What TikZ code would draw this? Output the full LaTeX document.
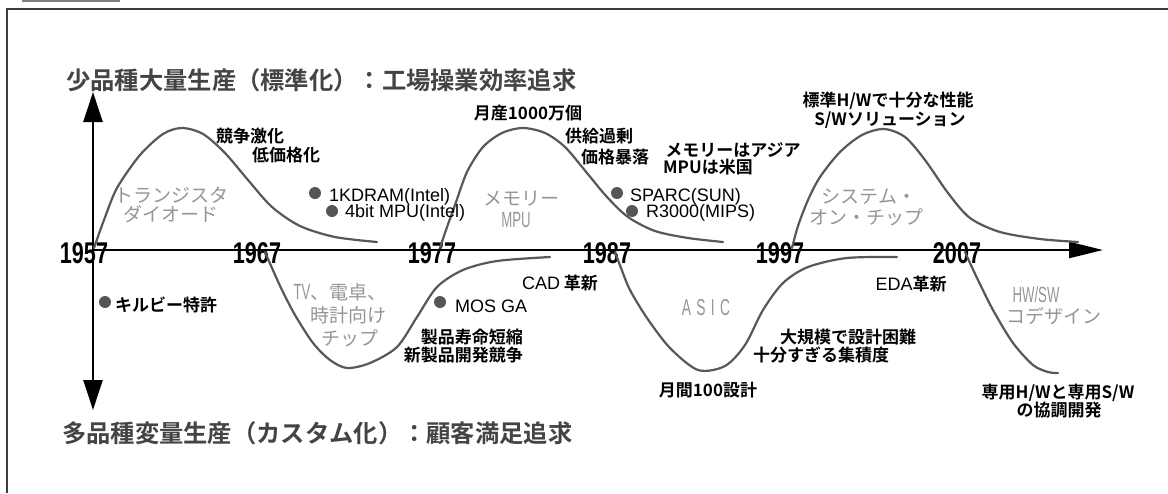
\documentclass[tikz,border=0pt]{standalone}
\usepackage{fontspec}
\setmainfont{Liberation Sans}
\newfontfamily\jp{Noto Sans CJK JP}[BoldFont=* Bold]
\newfontfamily\yearf{Liberation Sans}[FakeStretch=0.72]
\newfontfamily\condf{Liberation Sans}[FakeStretch=0.6]
\newfontfamily\condsp{Liberation Sans}[FakeStretch=0.6,LetterSpace=23]
\usetikzlibrary{arrows.meta}
\definecolor{curvec}{RGB}{88,88,88}
\definecolor{graytxt}{RGB}{150,150,150}
\definecolor{titlec}{RGB}{68,68,68}
\definecolor{dotc}{RGB}{85,85,85}
\definecolor{framec}{RGB}{60,60,60}
\begin{document}
\begin{tikzpicture}[x=1pt,y=-1pt,
  curve/.style={draw=curvec, line width=2.2pt, line join=round, line cap=round},
  axisline/.style={line width=2.4pt, draw=black},
  lbl/.style={font=\jp\bfseries\fontsize{17}{20}\selectfont, inner sep=0pt},
  glbl/.style={font=\jp\fontsize{19}{22}\selectfont, text=graytxt, inner sep=0pt},
  gcond/.style={font=\condf\fontsize{22}{24}\selectfont, text=graytxt, inner sep=0pt},
  latin/.style={font=\fontsize{18}{20}\selectfont, inner sep=0pt, anchor=west},
  year/.style={font=\yearf\bfseries\fontsize{30}{30}\selectfont, inner sep=0pt, anchor=base},
  title/.style={font=\jp\bfseries\fontsize{24.3}{26}\selectfont, text=titlec, inner sep=0pt, anchor=west},
  dotn/.style={circle, fill=dotc, minimum size=12pt, inner sep=0pt}
]
\useasboundingbox (0,0) rectangle (1168,493);
\fill[white] (0,0) rectangle (1168,493);
% frame
\coordinate (fb) at (7,493);
\coordinate (ftl) at (7,9);
\coordinate (ftr) at (1168,9);
\draw[line width=1.5pt, draw=framec] (fb) -- (ftl) -- (ftr);
\coordinate (tabl) at (22,1);
\coordinate (tabr) at (120,1);
\draw[line width=2pt, draw=gray] (tabl) -- (tabr);

% axes
\coordinate (O) at (93,250);
\coordinate (top) at (93,92);
\coordinate (bot) at (93,410);
\coordinate (right) at (1103,250);
\draw[axisline, {Triangle[length=30pt,width=19pt]}-{Triangle[length=30pt,width=19pt]}] (bot) -- (top);
\draw[axisline, -{Triangle[length=34pt,width=16pt]}] (O) -- (right);

% titles
\node[title] (t1) at (66,80) {少品種大量生産（標準化）：工場操業効率追求};
\node[title] (t2) at (62,433) {多品種変量生産（カスタム化）：顧客満足追求};

% years
\node[year] (y1) at (84,263) {1957};
\node[year] (y2) at (257,263) {1967};
\node[year] (y3) at (432,263) {1977};
\node[year] (y4) at (607,263) {1987};
\node[year] (y5) at (780,263) {1997};
\node[year] (y6) at (957,263) {2007};

% upper curves
\draw[curve] plot[smooth] coordinates {(94,248) (104,220) (117,188) (140,155) (163,134) (182,128) (203,134) (225,153) (248,180) (272,207) (300,226) (335,237) (377,242)};
\draw[curve] plot[smooth] coordinates {(440,248) (446,230) (455,205) (467,172) (483,147) (502,133) (523,128) (545,133) (565,147) (587,173) (607,197) (628,217) (655,231) (688,238) (723,242)};
\draw[curve] plot[smooth] coordinates {(792,248) (798,226) (808,200) (820,177) (840,152) (862,135) (884,129) (905,137) (925,160) (948,193) (970,218) (1000,232) (1040,239) (1078,242)};
% lower curves
\draw[curve] plot[smooth] coordinates {(265,252) (272,268) (282,290) (295,315) (313,343) (330,360) (347,368) (370,363) (397,347) (417,317) (437,287) (463,270) (497,261) (550,257)};
\draw[curve] plot[smooth] coordinates {(615,252) (621,268) (630,290) (647,318) (670,348) (698,370) (725,366) (745,345) (763,310) (783,283) (808,267) (847,258) (897,257)};
\draw[curve] plot[smooth] coordinates {(965,252) (970,263) (978,280) (993,310) (1013,343) (1033,365) (1048,372) (1058,373)};

% gray era labels
\node[glbl] (tr1) at (171,195) {トランジスタ};
\node[glbl] (tr2) at (171,214) {ダイオード};
\node[glbl] (me1) at (521,199) {メモリー};
\node[gcond] (me2) at (516,220) {MPU};
\node[glbl] (so1) at (869,197) {システム・};
\node[glbl] (so2) at (866,217) {オン・チップ};
\node[glbl] (tv1) at (340,292) {{\condf\fontsize{22}{24}\selectfont TV}、電卓、};
\node[glbl] (tv2) at (348,315) {時計向け};
\node[glbl] (tv3) at (350,338) {チップ};
\node[gcond, font=\condsp\fontsize{23}{24}\selectfont] (asic) at (706,308) {ASIC};
\node[gcond] (hw1) at (1036,295) {HW/SW};
\node[glbl] (hw2) at (1054,316) {コデザイン};

% black labels (upper)
\node[lbl] (l1) at (250,136) {競争激化};
\node[lbl] (l2) at (286,155) {低価格化};
\node[lbl] (l3) at (528,113) {月産1000万個};
\node[lbl] (l4) at (599,136) {供給過剰};
\node[lbl] (l5) at (615,157) {価格暴落};
\node[lbl] (l6) at (733,150) {メモリーはアジア};
\node[lbl] (l7) at (708,167) {MPUは米国};
\node[lbl] (l8) at (888,101) {標準H/Wで十分な性能};
\node[lbl] (l9) at (890,120) {S/Wソリューション};

% dots with labels
\node[dotn] (d1) at (315,193) {};
\node[latin] (d1t) at (329,197) {1KDRAM(Intel)};
\node[dotn] (d2) at (332,211) {};
\node[latin] (d2t) at (345,213) {4bit MPU(Intel)};
\node[dotn] (d3) at (617,193) {};
\node[latin] (d3t) at (630,197) {SPARC(SUN)};
\node[dotn] (d4) at (632,211) {};
\node[latin] (d4t) at (646,213) {R3000(MIPS)};
\node[dotn] (d5) at (105,302) {};
\node[lbl, anchor=west] (d5t) at (115,305) {キルビー特許};
\node[dotn] (d6) at (440,302) {};
\node[latin] (d6t) at (455,306) {MOS GA};

% black labels (lower)
\node[lbl, anchor=east] (b1) at (523,337) {製品寿命短縮};
\node[lbl, anchor=east] (b2) at (523,355) {新製品開発競争};
\node[lbl] (b3) at (560,283) {{\rmfamily\mdseries\fontsize{18}{20}\selectfont CAD} 革新};
\node[lbl] (b4) at (708,390) {月間100設計};
\node[lbl] (b5) at (848,337) {大規模で設計困難};
\node[lbl] (b6) at (821,355) {十分すぎる集積度};
\node[lbl] (b7) at (911,284) {{\rmfamily\mdseries\fontsize{18}{20}\selectfont EDA}革新};
\node[lbl] (b8) at (1058,393) {専用H/Wと専用S/W};
\node[lbl] (b9) at (1059,410) {の協調開発};
\end{tikzpicture}
\end{document}
